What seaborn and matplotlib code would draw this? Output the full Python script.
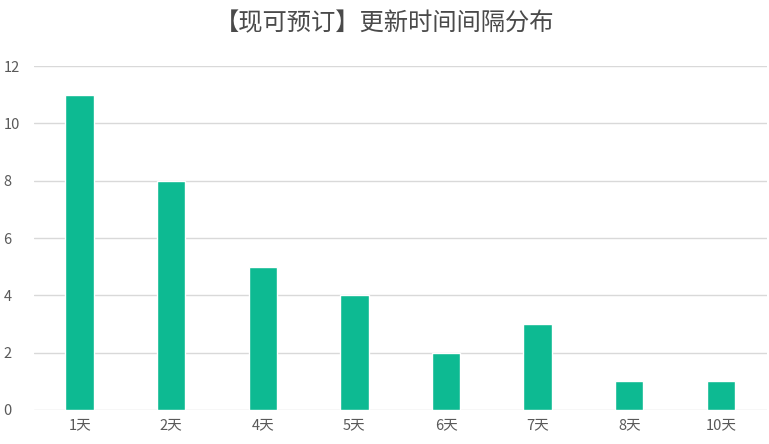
import matplotlib
matplotlib.use("Agg")
import matplotlib.pyplot as plt
import seaborn as sns
import pandas as pd

categories = ["1天", "2天", "4天", "5天", "6天", "7天", "8天", "10天"]
counts = [11, 8, 5, 4, 2, 3, 1, 1]
yticks = [0, 2, 4, 6, 8, 10, 12]
title = "【现可预订】更新时间间隔分布"

sns.set_theme(style="white")
plt.rcParams['font.family'] = ['Noto Sans CJK SC', 'DejaVu Sans']

df = pd.DataFrame({"cat": categories, "n": counts})

fig = plt.figure(figsize=(7.69, 4.44), dpi=100)
ax = fig.add_axes([0.044, 0.0766, 0.953, 0.7745])
sns.barplot(data=df, x="cat", y="n", color="#0DBA92", saturation=1, width=0.31, ax=ax, zorder=3)
ax.set_xlim(-0.5, len(categories) - 0.5)
ax.set_ylim(0, 12)
ax.set_yticks(yticks)
ax.set_yticklabels([str(v) for v in yticks])
ax.grid(axis="y", color="#D9D9D9", linewidth=1, zorder=0)
for s in ax.spines.values():
    s.set_visible(False)
ax.set_xlabel("")
ax.set_ylabel("")
ax.tick_params(axis="both", length=0, colors="#595959", labelsize=10.5)
ax.tick_params(axis="y", pad=22)
for lbl in ax.get_yticklabels():
    lbl.set_horizontalalignment("left")
ax.tick_params(axis="x", pad=6)
fig.text(0.5, 0.948, title, ha="center", va="center", fontsize=17.5, color="#4A4A4A")
fig.savefig("out.png", dpi=100)
